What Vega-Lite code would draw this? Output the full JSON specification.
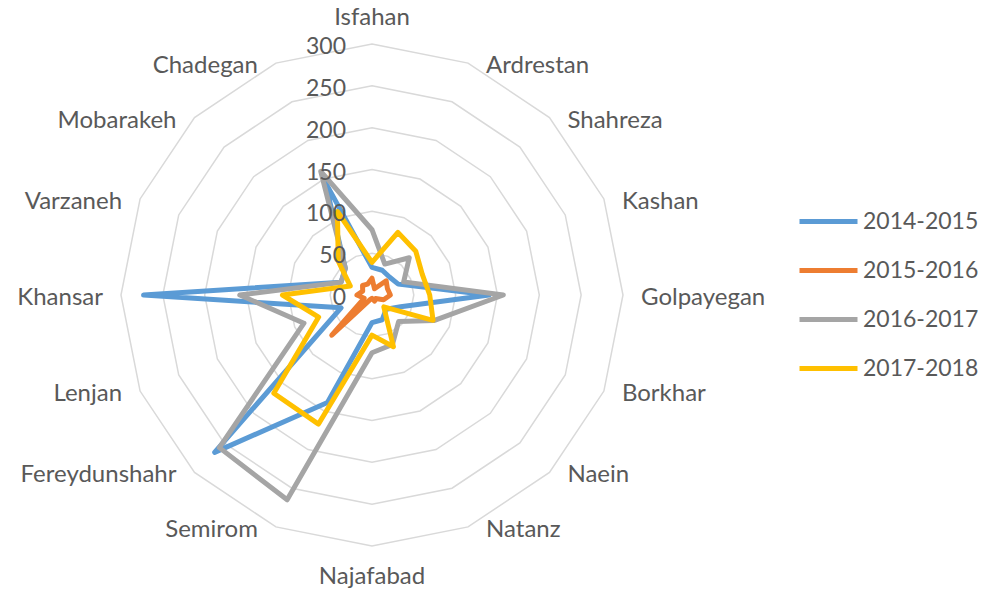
{
  "$schema": "https://vega.github.io/schema/vega-lite/v6.json",
  "width": 981,
  "height": 593,
  "padding": 0,
  "autosize": {"type": "none"},
  "background": "white",
  "config": {"view": {"stroke": null}, "font": "Lato"},
  "datasets": {
    "cities": [
      {"city": "Isfahan", "k": 0, "r": 300, "rings": [50, 100, 150, 200, 250, 300]},
      {"city": "Ardrestan", "k": 1, "r": 300, "rings": [50, 100, 150, 200, 250, 300]},
      {"city": "Shahreza", "k": 2, "r": 300, "rings": [50, 100, 150, 200, 250, 300]},
      {"city": "Kashan", "k": 3, "r": 300, "rings": [50, 100, 150, 200, 250, 300]},
      {"city": "Golpayegan", "k": 4, "r": 300, "rings": [50, 100, 150, 200, 250, 300]},
      {"city": "Borkhar", "k": 5, "r": 300, "rings": [50, 100, 150, 200, 250, 300]},
      {"city": "Naein", "k": 6, "r": 300, "rings": [50, 100, 150, 200, 250, 300]},
      {"city": "Natanz", "k": 7, "r": 300, "rings": [50, 100, 150, 200, 250, 300]},
      {"city": "Najafabad", "k": 8, "r": 300, "rings": [50, 100, 150, 200, 250, 300]},
      {"city": "Semirom", "k": 9, "r": 300, "rings": [50, 100, 150, 200, 250, 300]},
      {"city": "Fereydunshahr", "k": 10, "r": 300, "rings": [50, 100, 150, 200, 250, 300]},
      {"city": "Lenjan", "k": 11, "r": 300, "rings": [50, 100, 150, 200, 250, 300]},
      {"city": "Khansar", "k": 12, "r": 300, "rings": [50, 100, 150, 200, 250, 300]},
      {"city": "Varzaneh", "k": 13, "r": 300, "rings": [50, 100, 150, 200, 250, 300]},
      {"city": "Mobarakeh", "k": 14, "r": 300, "rings": [50, 100, 150, 200, 250, 300]},
      {"city": "Chadegan", "k": 15, "r": 300, "rings": [50, 100, 150, 200, 250, 300]}
    ],
    "values": [
      {"city": "Isfahan", "k": 0, "2014-2015": 33, "2015-2016": 20, "2016-2017": 78, "2017-2018": 39},
      {"city": "Ardrestan", "k": 1, "2014-2015": 32, "2015-2016": 8, "2016-2017": 40, "2017-2018": 81},
      {"city": "Shahreza", "k": 2, "2014-2015": 30, "2015-2016": 24, "2016-2017": 63, "2017-2018": 74},
      {"city": "Kashan", "k": 3, "2014-2015": 34, "2015-2016": 20, "2016-2017": 41, "2017-2018": 65},
      {"city": "Golpayegan", "k": 4, "2014-2015": 140, "2015-2016": 22, "2016-2017": 157, "2017-2018": 69},
      {"city": "Borkhar", "k": 5, "2014-2015": 37, "2015-2016": 15, "2016-2017": 80, "2017-2018": 79},
      {"city": "Naein", "k": 6, "2014-2015": 24, "2015-2016": 6, "2016-2017": 45, "2017-2018": 20},
      {"city": "Natanz", "k": 7, "2014-2015": 32, "2015-2016": 8, "2016-2017": 64, "2017-2018": 67},
      {"city": "Najafabad", "k": 8, "2014-2015": 33, "2015-2016": 4, "2016-2017": 69, "2017-2018": 48},
      {"city": "Semirom", "k": 9, "2014-2015": 139, "2015-2016": 6, "2016-2017": 265, "2017-2018": 167},
      {"city": "Fereydunshahr", "k": 10, "2014-2015": 266, "2015-2016": 68, "2016-2017": 258, "2017-2018": 166},
      {"city": "Lenjan", "k": 11, "2014-2015": 40, "2015-2016": 10, "2016-2017": 88, "2017-2018": 69},
      {"city": "Khansar", "k": 12, "2014-2015": 273, "2015-2016": 18, "2016-2017": 158, "2017-2018": 107},
      {"city": "Varzaneh", "k": 13, "2014-2015": 40, "2015-2016": 12, "2016-2017": 40, "2017-2018": 28},
      {"city": "Mobarakeh", "k": 14, "2014-2015": 45, "2015-2016": 16, "2016-2017": 45, "2017-2018": 57},
      {"city": "Chadegan", "k": 15, "2014-2015": 146, "2015-2016": 14, "2016-2017": 160, "2017-2018": 108}
    ],
    "ticks": [
      {"tick": 0}, {"tick": 50}, {"tick": 100}, {"tick": 150}, {"tick": 200}, {"tick": 250}, {"tick": 300}
    ]
  },
  "layer": [
    {
      "data": {"name": "cities"},
      "transform": [
        {"flatten": ["rings"]},
        {"calculate": "datum.rings * sin(datum.k * PI / 8)", "as": "px"},
        {"calculate": "datum.rings * cos(datum.k * PI / 8)", "as": "py"}
      ],
      "mark": {"type": "line", "interpolate": "linear-closed", "stroke": "#D9D9D9", "strokeWidth": 1.5},
      "encoding": {
        "x": {"field": "px", "type": "quantitative", "scale": {"domain": [-444.6, 727.9], "nice": false, "zero": false}, "axis": null},
        "y": {"field": "py", "type": "quantitative", "scale": {"domain": [-356.2, 352.6], "nice": false, "zero": false}, "axis": null},
        "detail": {"field": "rings", "type": "nominal"},
        "order": {"field": "k", "type": "quantitative"}
      }
    },
    {
      "data": {"name": "values"},
      "transform": [
        {"fold": ["2014-2015", "2015-2016", "2016-2017", "2017-2018"], "as": ["series", "value"]},
        {"calculate": "datum.value * sin(datum.k * PI / 8)", "as": "px"},
        {"calculate": "datum.value * cos(datum.k * PI / 8)", "as": "py"}
      ],
      "mark": {"type": "line", "interpolate": "linear-closed", "strokeWidth": 5, "strokeJoin": "round", "strokeCap": "round"},
      "encoding": {
        "x": {"field": "px", "type": "quantitative", "scale": {"domain": [-444.6, 727.9], "nice": false, "zero": false}, "axis": null},
        "y": {"field": "py", "type": "quantitative", "scale": {"domain": [-356.2, 352.6], "nice": false, "zero": false}, "axis": null},
        "color": {
          "field": "series", "type": "nominal",
          "scale": {"domain": ["2014-2015", "2015-2016", "2016-2017", "2017-2018"], "range": ["#5B9BD5", "#ED7D31", "#A5A5A5", "#FFC000"]},
          "legend": {
            "orient": "none", "legendX": 797, "legendY": 190, "title": null,
            "symbolType": "stroke", "symbolSize": 3364, "symbolStrokeWidth": 5,
            "labelFontSize": 23, "labelFont": "Lato", "labelColor": "#595959",
            "rowPadding": 5, "labelOffset": 3
          }
        },
        "order": {"field": "k", "type": "quantitative"}
      }
    },
    {
      "data": {"name": "ticks"},
      "transform": [
        {"calculate": "0", "as": "px"}
      ],
      "mark": {"type": "text", "align": "right", "baseline": "middle", "dx": -26, "dy": 3, "fontSize": 23, "color": "#595959"},
      "encoding": {
        "x": {"field": "px", "type": "quantitative", "scale": {"domain": [-444.6, 727.9], "nice": false, "zero": false}, "axis": null},
        "y": {"field": "tick", "type": "quantitative", "scale": {"domain": [-356.2, 352.6], "nice": false, "zero": false}, "axis": null},
        "text": {"field": "tick", "type": "quantitative"}
      }
    },
    {
      "data": {"name": "cities"},
      "transform": [
        {"filter": "datum.k >= 1 && datum.k <= 7"},
        {"calculate": "datum.r * sin(datum.k * PI / 8)", "as": "px"},
        {"calculate": "datum.r * cos(datum.k * PI / 8)", "as": "py"}
      ],
      "mark": {"type": "text", "align": "left", "baseline": "middle", "dx": 18, "dy": 3, "fontSize": 24, "color": "#595959"},
      "encoding": {
        "x": {"field": "px", "type": "quantitative", "scale": {"domain": [-444.6, 727.9], "nice": false, "zero": false}, "axis": null},
        "y": {"field": "py", "type": "quantitative", "scale": {"domain": [-356.2, 352.6], "nice": false, "zero": false}, "axis": null},
        "text": {"field": "city"}
      }
    },
    {
      "data": {"name": "cities"},
      "transform": [
        {"filter": "datum.k >= 9"},
        {"calculate": "datum.r * sin(datum.k * PI / 8)", "as": "px"},
        {"calculate": "datum.r * cos(datum.k * PI / 8)", "as": "py"}
      ],
      "mark": {"type": "text", "align": "right", "baseline": "middle", "dx": -18, "dy": 3, "fontSize": 24, "color": "#595959"},
      "encoding": {
        "x": {"field": "px", "type": "quantitative", "scale": {"domain": [-444.6, 727.9], "nice": false, "zero": false}, "axis": null},
        "y": {"field": "py", "type": "quantitative", "scale": {"domain": [-356.2, 352.6], "nice": false, "zero": false}, "axis": null},
        "text": {"field": "city"}
      }
    },
    {
      "data": {"name": "cities"},
      "transform": [
        {"filter": "datum.k == 0"},
        {"calculate": "0", "as": "px"}
      ],
      "mark": {"type": "text", "align": "center", "baseline": "middle", "dy": -26, "fontSize": 24, "color": "#595959"},
      "encoding": {
        "x": {"field": "px", "type": "quantitative", "scale": {"domain": [-444.6, 727.9], "nice": false, "zero": false}, "axis": null},
        "y": {"field": "r", "type": "quantitative", "scale": {"domain": [-356.2, 352.6], "nice": false, "zero": false}, "axis": null},
        "text": {"field": "city"}
      }
    },
    {
      "data": {"name": "cities"},
      "transform": [
        {"filter": "datum.k == 8"},
        {"calculate": "0", "as": "px"},
        {"calculate": "-datum.r", "as": "py"}
      ],
      "mark": {"type": "text", "align": "center", "baseline": "middle", "dy": 31, "fontSize": 24, "color": "#595959"},
      "encoding": {
        "x": {"field": "px", "type": "quantitative", "scale": {"domain": [-444.6, 727.9], "nice": false, "zero": false}, "axis": null},
        "y": {"field": "py", "type": "quantitative", "scale": {"domain": [-356.2, 352.6], "nice": false, "zero": false}, "axis": null},
        "text": {"field": "city"}
      }
    }
  ]
}
